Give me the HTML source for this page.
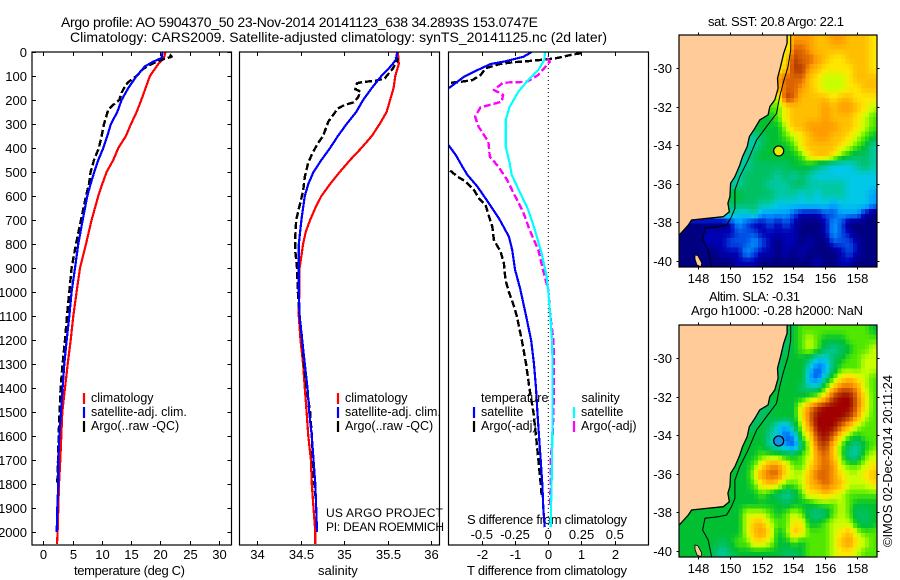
<!DOCTYPE html>
<html>
<head>
<meta charset="utf-8">
<title>Argo profile 5904370_50</title>
<style>
html,body{margin:0;padding:0;background:#fff;width:900px;height:580px;overflow:hidden}
svg{display:block}
text{font-family:"Liberation Sans",sans-serif;font-size:13px;fill:#000}
.ttl{font-size:14px}
.lg{font-size:12.5px}
.pj{font-size:12px}
</style>
</head>
<body>
<svg id="fig" width="900" height="580" viewBox="0 0 900 580" xmlns="http://www.w3.org/2000/svg">
  <defs>
    <clipPath id="clipT"><rect x="32" y="52" width="199.5" height="493"/></clipPath>
    <clipPath id="clipS"><rect x="239.5" y="52" width="200" height="493"/></clipPath>
    <clipPath id="clipD"><rect x="448.5" y="52" width="200" height="493"/></clipPath>
    <clipPath id="clipM1"><rect x="679" y="35" width="198" height="232"/></clipPath>
    <clipPath id="clipM2"><rect x="679" y="325" width="198" height="232"/></clipPath>
  </defs>
  <text class="ttl" x="61" y="27" textLength="477" lengthAdjust="spacing">Argo profile: AO 5904370_50 23-Nov-2014 20141123_638 34.2893S 153.0747E</text>
  <text class="ttl" x="70" y="42" textLength="537" lengthAdjust="spacing">Climatology: CARS2009. Satellite-adjusted climatology: synTS_20141125.nc (2d later)</text>

  <text x="74" y="575" textLength="111">temperature (deg C)</text>
  <text x="318" y="575">salinity</text>
  <text x="467" y="575" textLength="160">T difference from climatology</text>
  <text x="467" y="524" textLength="160">S difference from climatology</text>

  <text class="pj" x="326" y="517" textLength="117">US ARGO PROJECT</text>
  <text class="pj" x="326" y="531" textLength="118">PI: DEAN ROEMMICH</text>

  <text x="708" y="26" textLength="136">sat. SST: 20.8 Argo: 22.1</text>
  <text x="709" y="301" textLength="91">Altim. SLA: -0.31</text>
  <text x="691" y="315" textLength="172">Argo h1000: -0.28 h2000: NaN</text>
  <text transform="translate(892,547) rotate(-90)" x="0" y="0" textLength="172">©IMOS 02-Dec-2014 20:11:24</text>
</svg>
<script>
/* ---------- profile data: depth (dbar) and value ---------- */
const depthTicks = [0,100,200,300,400,500,600,700,800,900,1000,1100,1200,1300,1400,1500,1600,1700,1800,1900,2000];
const tempTicks = [0,5,10,15,20,25,30];
const salTicks = [34,34.5,35,35.5,36];
const tDiffTicks = [-2,-1,0,1,2];
const sDiffTicks = [-0.5,-0.25,0,0.25,0.5];

const tempClimDepth = [0,25,50,100,150,200,250,300,350,400,450,500,550,600,700,800,900,1000,1100,1200,1300,1400,1500,1600,1700,1800,1900,2000,2050];
const tempClimValues = [20.88,20.6,19.63,18.2,17.47,16.73,15.93,14.97,14.11,12.8,11.95,10.81,10.07,9.39,8.25,7.29,6.26,5.69,5.12,4.67,4.16,3.7,3.25,3.08,2.91,2.68,2.56,2.45,2.34];

const tempSatDepth = [0,25,40,60,100,150,200,250,300,350,400,450,500,550,600,700,800,900,1000,1100,1200,1300,1400,1500,1600,1700,1800,1900,2000];
const tempSatValues = [20.37,20.2,18.78,17.35,15.93,14.51,13.37,12.63,11.55,10.93,10.25,9.39,8.71,8.08,7.51,6.72,5.98,5.41,4.84,4.44,3.99,3.59,3.3,3.02,2.74,2.56,2.56,2.39,2.28];

const tempArgoDepth = [10,20,30,40,50,70,100,120,135,170,200,220,240,300,350,400,450,500,550,600,700,800,900,1000,1100,1200,1300,1400,1500,1600,1700,1800];
const tempArgoValues = [21.6,21.9,20.5,19.34,18.49,17.07,15.93,14.8,14.11,13.37,12.97,11.95,11.1,10.36,9.96,9.5,8.65,8.08,7.8,7.29,6.43,5.58,4.84,4.44,4.04,3.7,3.3,2.96,2.79,2.62,2.51,2.39];

const salClimDepth = [0,50,100,150,200,250,300,350,400,450,500,550,600,650,700,750,800,850,900,1000,1050,1100,1200,1300,1400,1500,1600,1700,1800,1900,2000,2050];
const salClimValues = [35.62,35.63,35.59,35.57,35.53,35.49,35.41,35.32,35.2,35.07,34.95,34.84,34.74,34.67,34.61,34.56,34.53,34.51,34.49,34.49,34.48,34.48,34.5,34.53,34.55,34.57,34.59,34.62,34.63,34.65,34.67,34.67];

const salSatDepth = [0,30,50,70,100,150,200,250,300,350,400,450,500,550,600,650,700,800,900,1000,1100,1200,1300,1400,1500,1600,1700,1800,1900,2000];
const salSatValues = [35.61,35.6,35.56,35.51,35.43,35.32,35.22,35.14,35.03,34.93,34.84,34.74,34.65,34.59,34.55,34.53,34.51,34.48,34.48,34.48,34.49,34.52,34.55,34.58,34.6,34.63,34.65,34.67,34.68,34.69];

const salArgoDepth = [20,30,50,70,100,110,120,125,130,155,165,190,210,220,235,260,290,350,380,420,460,520,580,640,700,770,830,900,1000,1100,1200,1300,1400,1500,1600,1700,1800,1850];
const salArgoValues = [35.59,35.62,35.59,35.56,35.49,35.47,35.36,35.22,35.15,35.13,35.19,35.16,35.11,35.01,34.93,34.88,34.82,34.76,34.7,34.64,34.59,34.55,34.53,34.49,34.45,34.44,34.44,34.46,34.47,34.49,34.52,34.54,34.57,34.61,34.63,34.64,34.66,34.67];

const dTSatDepth = [0,20,40,50,82,103,144,200,300,390,429,478,512,561,631,693,769,825,908,985,1100,1200,1300,1400,1500,1600,1700,1800,1900,1980];
const dTSatValues = [-0.5,-0.75,-1.34,-1.74,-2.24,-2.54,-2.94,-3.5,-3.6,-3.0,-2.79,-2.59,-2.44,-2.14,-1.79,-1.49,-1.19,-1.09,-1.0,-0.85,-0.67,-0.52,-0.43,-0.37,-0.33,-0.28,-0.23,-0.18,-0.15,-0.11];

const dTArgoDepth = [5,10,24,30,40,43,51,68,96,117,124,128,200,400,494,519,540,575,610,637,686,728,783,832,880,950,1000,1050,1100,1200,1300,1400,1500,1600,1700,1800,1850];
const dTArgoValues = [1.0,0.75,0.3,0,-0.75,-1.09,-1.49,-1.89,-2.04,-2.29,-2.64,-2.94,-3.8,-3.6,-2.96,-2.74,-2.49,-2.24,-2.09,-1.89,-1.79,-1.69,-1.64,-1.44,-1.34,-1.29,-1.19,-1.06,-0.95,-0.8,-0.67,-0.57,-0.45,-0.37,-0.3,-0.23,-0.2];

const dSSatDepth = [0,33,75,117,165,228,283,394,464,512,589,658,742,839,936,1000,1100,1200,1300,1400,1500,1600,1700,1800,1900,1980];
const dSSatValues = [-0.025,-0.03,-0.075,-0.15,-0.225,-0.29,-0.32,-0.32,-0.29,-0.275,-0.21,-0.15,-0.1,-0.05,-0.012,0,0.015,0.028,0.032,0.032,0.032,0.03,0.028,0.025,0.02,0.018];

const dSArgoDepth = [26,40,96,124,128,158,179,207,231,269,311,374,436,478,533,589,665,742,825,908,992,1100,1200,1300,1400,1500,1600,1700,1800,1900];
const dSArgoValues = [-0.01,0.012,-0.075,-0.16,-0.34,-0.41,-0.34,-0.35,-0.51,-0.55,-0.525,-0.45,-0.44,-0.375,-0.31,-0.26,-0.19,-0.14,-0.075,-0.04,0,0.015,0.038,0.042,0.042,0.038,0.032,0.018,0.018,0.012];

/* ---------- map data: colour-level grids, 25 columns x 24 rows (L = land) ---------- */
const L = null;
const mapLonTicks = [148,150,152,154,156,158];
const mapLatTicks = [-30,-32,-34,-36,-38,-40];
const levelColors = ['#000080','#0000b4','#0050e6','#00a0ff','#00c8e6','#00c8a0','#00c064','#00c032','#50e800','#c8ff00','#ffe600','#ffbe00','#ff9b00','#dc6400','#b43c00','#a00000'];

const sstRows = [
[L,L,L,L,L,L,L,L,L,L,L,L,L,9,12,12,12,11,11,12,12,11,11,11,10],
[L,L,L,L,L,L,L,L,L,L,L,L,L,9,13,13,12,11,11,11,11,11,11,11,10],
[L,L,L,L,L,L,L,L,L,L,L,L,L,10,14,13,13,12,11,10,10,11,11,11,10],
[L,L,L,L,L,L,L,L,L,L,L,L,9,11,14,14,12,11,10,10,10,10,11,11,10],
[L,L,L,L,L,L,L,L,L,L,L,L,12,13,13,13,11,10,9,9,9,10,11,11,11],
[L,L,L,L,L,L,L,L,L,L,L,L,11,13,13,12,11,10,9,9,9,10,10,11,11],
[L,L,L,L,L,L,L,L,L,L,L,L,9,14,13,11,11,11,11,10,11,11,10,10,10],
[L,L,L,L,L,L,L,L,L,L,L,L,8,10,11,11,11,11,12,11,12,12,11,10,9],
[L,L,L,L,L,L,L,L,L,L,L,7,8,10,11,11,11,11,12,11,11,11,10,9,8],
[L,L,L,L,L,L,L,L,L,L,7,7,7,9,11,11,12,12,12,12,11,11,10,9,8],
[L,L,L,L,L,L,L,L,L,5,6,7,7,8,9,10,11,12,12,11,11,10,9,8,7],
[L,L,L,L,L,L,L,L,L,5,6,7,7,7,8,10,11,11,11,11,10,9,8,7,5],
[L,L,L,L,L,L,L,L,5,6,7,7,7,7,7,8,10,11,11,10,8,7,6,6,5],
[L,L,L,L,L,L,L,L,5,6,6,6,6,6,7,7,7,6,5,4,4,4,5,6,5],
[L,L,L,L,L,L,L,5,6,6,6,6,5,6,5,6,5,4,4,4,4,4,4,4,4],
[L,L,L,L,L,L,L,5,6,6,6,5,5,5,6,6,5,5,5,5,5,4,4,4,4],
[L,L,L,L,L,L,L,7,6,6,6,6,5,5,5,4,5,4,5,5,5,4,4,4,3],
[L,L,L,L,L,L,6,6,6,6,5,5,4,4,4,4,4,4,4,3,4,4,4,4,3],
[L,L,L,L,L,L,5,4,4,5,3,3,3,3,2,1,1,1,2,2,3,3,3,1,0],
[0,0,0,0,0,0,1,3,2,1,1,2,1,2,1,0,0,0,1,3,2,0,0,0,0],
[0,0,0,1,1,1,1,2,2,2,1,1,1,1,1,0,0,0,1,3,2,1,0,0,0],
[0,0,0,1,1,1,2,2,2,3,2,1,0,1,1,0,1,0,0,2,2,2,1,0,0],
[0,0,0,0,0,1,1,1,3,2,1,1,0,1,0,1,0,0,0,0,1,2,1,0,0],
[0,0,0,0,0,0,0,1,1,1,0,0,0,0,0,0,0,1,0,0,1,1,0,0,0]
];

const slaRows = [
[L,L,L,L,L,L,L,L,L,L,L,L,L,6,7,8,8,8,8,8,8,8,8,8,7],
[L,L,L,L,L,L,L,L,L,L,L,L,L,6,7,8,9,8,7,7,7,8,8,8,8],
[L,L,L,L,L,L,L,L,L,L,L,L,L,6,7,8,9,8,6,5,6,7,8,8,9],
[L,L,L,L,L,L,L,L,L,L,L,L,6,7,7,7,6,4,4,6,7,8,8,9,9],
[L,L,L,L,L,L,L,L,L,L,L,L,6,7,7,7,4,2,3,6,8,8,8,9,9],
[L,L,L,L,L,L,L,L,L,L,L,L,6,7,7,7,3,2,5,8,10,11,10,9,8],
[L,L,L,L,L,L,L,L,L,L,L,L,7,7,7,6,5,5,8,11,13,13,12,9,8],
[L,L,L,L,L,L,L,L,L,L,L,L,7,7,7,7,8,9,11,14,15,15,13,10,8],
[L,L,L,L,L,L,L,L,L,L,L,6,7,7,7,10,12,14,15,15,15,15,13,10,8],
[L,L,L,L,L,L,L,L,L,L,6,7,7,7,7,10,13,15,15,15,15,14,12,9,8],
[L,L,L,L,L,L,L,L,L,6,7,6,4,3,6,9,12,15,15,15,13,11,9,8,8],
[L,L,L,L,L,L,L,L,L,7,7,5,4,2,3,8,10,14,15,13,10,8,7,8,8],
[L,L,L,L,L,L,L,L,7,7,7,5,4,3,2,6,9,13,14,11,8,6,5,7,8],
[L,L,L,L,L,L,L,L,7,7,8,8,8,7,7,8,9,12,13,11,8,5,5,8,9],
[L,L,L,L,L,L,L,7,7,8,10,12,12,10,8,8,10,12,13,12,9,8,8,9,10],
[L,L,L,L,L,L,L,7,7,9,12,13,13,10,9,9,11,13,13,12,10,9,9,10,11],
[L,L,L,L,L,L,L,7,7,8,10,11,10,8,8,9,11,12,13,12,11,9,9,9,10],
[L,L,L,L,L,L,7,7,7,7,8,7,6,5,6,8,10,10,11,10,9,8,8,8,8],
[L,L,L,L,L,L,7,7,7,7,7,7,7,6,7,7,7,8,8,8,9,8,7,7,7],
[7,7,7,7,7,7,7,7,9,9,9,8,7,8,9,8,6,5,6,8,9,8,6,6,7],
[7,7,7,7,7,7,7,7,9,11,11,9,8,8,10,10,7,7,8,9,9,9,7,6,7],
[7,7,7,7,7,7,7,7,9,11,12,10,7,8,11,10,8,8,8,9,10,11,9,8,8],
[7,7,7,7,7,6,7,8,8,10,10,9,7,7,8,7,8,8,8,9,11,12,10,9,8],
[7,7,7,7,6,5,6,7,7,7,7,7,7,6,6,7,8,8,8,9,10,10,9,8,8]
];

const coastLon = [153.6,153.6,153.39,153.19,153.0,153.04,152.83,152.52,152.41,151.89,151.58,151.23,151.1,150.81,150.64,150.33,150.06,150.02,149.89,149.98,149.6,148.56,147.62,147.41,146.85];
const coastLat = [-28.27,-28.7,-29.22,-29.92,-30.52,-31.04,-31.64,-31.99,-32.42,-32.68,-33.12,-33.55,-34.07,-34.59,-35.02,-35.62,-35.97,-36.66,-37.0,-37.44,-37.7,-37.79,-37.87,-38.13,-38.65];
const shelfLon = [153.83,153.83,153.66,153.35,153.14,152.94,152.31,151.69,151.16,150.64,150.33,150.33,150.12,149.81,149.29,148.46,148.31,148.66,148.87];
const shelfLat = [-28.27,-29.05,-29.92,-30.78,-31.47,-32.34,-33.03,-33.72,-34.76,-35.62,-36.32,-37.27,-37.7,-38.13,-38.22,-38.3,-38.91,-39.43,-40.3];
const islandLon = [147.83,148.0,148.25,148.2,147.95,147.83];
const islandLat = [-39.69,-39.72,-40.1,-40.3,-40.2,-39.9];
const stationLon = [153.0747];
const stationLat = [-34.2893];

/* ---------- helpers ---------- */
const NS = 'http://www.w3.org/2000/svg';
const fig = document.getElementById('fig');
function mk(tag, attrs, parent) {
  const e = document.createElementNS(NS, tag);
  for (const k in attrs) e.setAttribute(k, attrs[k]);
  (parent || fig).appendChild(e);
  return e;
}
function linear(d0, d1, p0, p1) { return v => p0 + (v - d0) * (p1 - p0) / (d1 - d0); }
const yDepth = linear(0, 2000, 52, 532);
const xTemp = linear(0, 30, 43.3, 219);
const xSal = linear(34, 36, 257, 431);
const xDT = linear(0, 2, 548.3, 614.6);
const xDS = linear(0, 0.5, 548.3, 614.8);
const xLon = linear(148, 158, 697.7, 857.3);

function drawFrame(x, y, w, h, name) {
  const r = mk('rect', {x: x, y: y, width: w, height: h, fill: 'none', stroke: '#000', 'stroke-width': 1.2});
  
  
}
function tick(x1, y1, x2, y2, name) {
  const t = mk('line', {x1: x1, y1: y1, x2: x2, y2: y2, stroke: '#000', 'stroke-width': 1});
  
  
}
function label(x, y, s, anchor, name, cls) {
  const t = mk('text', {x: x, y: y, 'text-anchor': anchor});
  if (cls) t.setAttribute('class', cls);
  t.textContent = s;
  
  
}
function drawProfile(depths, values, xFn, color, dashed, clip, name) {
  const pts = depths.map((d, i) => xFn(values[i]).toFixed(1) + ',' + yDepth(d).toFixed(1)).join(' ');
  const p = mk('polyline', {points: pts, fill: 'none', stroke: color, 'stroke-width': dashed ? 2.4 : 2.2, 'clip-path': 'url(#' + clip + ')', 'stroke-linejoin': 'round', 'shape-rendering': 'crispEdges'});
  if (dashed) p.setAttribute('stroke-dasharray', '7 3');
  
  
}
function legendEntry(x, yBase, color, text, name) {
  const m = mk('line', {x1: x, y1: yBase - 9, x2: x, y2: yBase + 2, stroke: color, 'stroke-width': 2.2});
  
  
  label(x + 7, yBase, text, 'start', name, 'lg');
}

/* ---------- profile panels ---------- */
drawProfile(tempClimDepth, tempClimValues, xTemp, '#ff0000', false, 'clipT', 'temperature-climatology-line');
drawProfile(tempArgoDepth, tempArgoValues, xTemp, '#000000', true, 'clipT', 'temperature-argo-line');
drawProfile(tempSatDepth, tempSatValues, xTemp, '#0000ff', false, 'clipT', 'temperature-satellite-line');

drawProfile(salClimDepth, salClimValues, xSal, '#ff0000', false, 'clipS', 'salinity-climatology-line');
drawProfile(salArgoDepth, salArgoValues, xSal, '#000000', true, 'clipS', 'salinity-argo-line');
drawProfile(salSatDepth, salSatValues, xSal, '#0000ff', false, 'clipS', 'salinity-satellite-line');

const zeroLine = mk('line', {x1: xDT(0), y1: 52, x2: xDT(0), y2: 532, stroke: '#000', 'stroke-width': 1, 'stroke-dasharray': '1 3'});


drawProfile(dTArgoDepth, dTArgoValues, xDT, '#000000', true, 'clipD', 't-difference-argo-line');
drawProfile(dTSatDepth, dTSatValues, xDT, '#0000ff', false, 'clipD', 't-difference-satellite-line');
drawProfile(dSArgoDepth, dSArgoValues, xDS, '#ff00ff', true, 'clipD', 's-difference-argo-line');
drawProfile(dSSatDepth, dSSatValues, xDS, '#00ffff', false, 'clipD', 's-difference-satellite-line');

drawFrame(32, 52, 199.5, 493, 'temperature-panel-frame');
drawFrame(239.5, 52, 200, 493, 'salinity-panel-frame');
drawFrame(448.5, 52, 200, 493, 'difference-panel-frame');

depthTicks.forEach(d => {
  const y = Math.round(yDepth(d)) + 0.5;
  tick(32, y, 36, y, 'depth-tick-left');
  tick(231.5, y, 227.5, y, 'depth-tick-right');
  label(27, y + 4.5, String(d), 'end', 'depth-tick-label');
});
tempTicks.forEach(v => {
  const x = Math.round(xTemp(v)) + 0.5;
  tick(x, 52, x, 56, 'temperature-tick-top');
  tick(x, 545, x, 541, 'temperature-tick-bottom');
  label(x, 559, String(v), 'middle', 'temperature-tick-label');
});
salTicks.forEach(v => {
  const x = Math.round(xSal(v)) + 0.5;
  tick(x, 52, x, 56, 'salinity-tick-top');
  tick(x, 545, x, 541, 'salinity-tick-bottom');
  label(x, 559, String(v), 'middle', 'salinity-tick-label');
});
tDiffTicks.forEach(v => {
  const x = Math.round(xDT(v)) + 0.5;
  tick(x, 52, x, 56, 't-difference-tick-top');
  tick(x, 545, x, 541, 't-difference-tick-bottom');
  label(x, 559, String(v), 'middle', 't-difference-tick-label');
});
sDiffTicks.forEach(v => {
  label(xDS(v), 539, String(v), 'middle', 's-difference-tick-label');
});

legendEntry(84, 402, '#ff0000', 'climatology', 'temperature-legend-climatology');
legendEntry(84, 416, '#0000ff', 'satellite-adj. clim.', 'temperature-legend-satellite');
legendEntry(84, 430, '#000000', 'Argo(..raw -QC)', 'temperature-legend-argo');
legendEntry(338, 402, '#ff0000', 'climatology', 'salinity-legend-climatology');
legendEntry(338, 416, '#0000ff', 'satellite-adj. clim.', 'salinity-legend-satellite');
legendEntry(338, 430, '#000000', 'Argo(..raw -QC)', 'salinity-legend-argo');
label(481, 402, 'temperature', 'start', 'difference-legend-temperature-heading', 'lg');
legendEntry(474, 416, '#0000ff', 'satellite', 'difference-legend-t-satellite');
legendEntry(474, 430, '#000000', 'Argo(-adj)', 'difference-legend-t-argo');
label(581.5, 402, 'salinity', 'start', 'difference-legend-salinity-heading', 'lg');
legendEntry(574, 416, '#00ffff', 'satellite', 'difference-legend-s-satellite');
legendEntry(574, 430, '#ff00ff', 'Argo(-adj)', 'difference-legend-s-argo');

/* ---------- maps ---------- */
function hexRgb(h) { return [1, 3, 5].map(i => parseInt(h.slice(i, i + 2), 16)); }
function levelColor(v) {
  const lo = Math.max(0, Math.min(levelColors.length - 1, Math.floor(v)));
  const hi = Math.min(levelColors.length - 1, lo + 1);
  const f = Math.max(0, Math.min(1, v - lo));
  const a = hexRgb(levelColors[lo]), b = hexRgb(levelColors[hi]);
  return 'rgb(' + a.map((c, i) => Math.round(c + (b[i] - c) * f)).join(',') + ')';
}
function cellValue(rows, r, c) {
  const row = rows[Math.max(0, Math.min(rows.length - 1, r))];
  const cc = Math.max(0, Math.min(row.length - 1, c));
  if (row[cc] !== null) return row[cc];
  return row.find(v => v !== null);
}
function sampleGrid(rows, fr, fc) {
  const r0 = Math.floor(fr), c0 = Math.floor(fc);
  const tr = fr - r0, tc = fc - c0;
  const top = cellValue(rows, r0, c0) * (1 - tc) + cellValue(rows, r0, c0 + 1) * tc;
  const bot = cellValue(rows, r0 + 1, c0) * (1 - tc) + cellValue(rows, r0 + 1, c0 + 1) * tc;
  return top * (1 - tr) + bot * tr;
}
function drawMap(rows, top, clip, markColor, prefix) {
  const yLat = linear(-30, -40, top + 33.3, top + 226);
  const group = mk('g', {'clip-path': 'url(#' + clip + ')'});
  
  
  const cellHolder = mk('g', {'shape-rendering': 'crispEdges'}, group);
  const nCols = rows[0].length * 2, nRows = rows.length * 2;
  const cw = 198 / nCols, ch = 232 / nRows;
  for (let r = 0; r < nRows; r++) {
    for (let c = 0; c < nCols; c++) {
      const v = sampleGrid(rows, (r + 0.5) / 2 - 0.5, (c + 0.5) / 2 - 0.5);
      const cell = mk('rect', {x: 679 + c * cw, y: top + r * ch, width: cw + 0.3, height: ch + 0.3, fill: levelColor(v)}, cellHolder);
      
      
    }
  }
  const coastPts = coastLon.map((v, i) => xLon(v).toFixed(1) + ',' + yLat(coastLat[i]).toFixed(1)).join(' ');
  const land = mk('polygon', {points: '679,' + top + ' ' + coastPts, fill: '#ffcc99', stroke: 'none'}, group);
  
  
  const coast = mk('polyline', {points: coastPts, fill: 'none', stroke: '#000', 'stroke-width': 1.3}, group);
  
  
  const shelfPts = shelfLon.map((v, i) => xLon(v).toFixed(1) + ',' + yLat(shelfLat[i]).toFixed(1)).join(' ');
  const shelf = mk('polyline', {points: shelfPts, fill: 'none', stroke: '#000', 'stroke-width': 1}, group);
  
  
  const islandPts = islandLon.map((v, i) => xLon(v).toFixed(1) + ',' + yLat(islandLat[i]).toFixed(1)).join(' ');
  const island = mk('polygon', {points: islandPts, fill: '#ffcc99', stroke: '#000', 'stroke-width': 0.8}, group);
  
  
  const station = mk('circle', {cx: xLon(stationLon[0]), cy: yLat(stationLat[0]), r: 5, fill: markColor, stroke: '#000', 'stroke-width': 1.2}, group);
  
  
  drawFrame(679, top, 198, 232, prefix + '-map-frame');
  mapLonTicks.forEach(v => {
    const x = Math.round(xLon(v)) + 0.5;
    tick(x, top, x, top - 2.5, prefix + '-lon-tick-top');
    tick(x, top + 232, x, top + 234.5, prefix + '-lon-tick-bottom');
    label(x, top + 248, String(v), 'middle', prefix + '-lon-label');
  });
  mapLatTicks.forEach(v => {
    const y = Math.round(yLat(v)) + 0.5;
    tick(679, y, 676.5, y, prefix + '-lat-tick-left');
    tick(877, y, 879.5, y, prefix + '-lat-tick-right');
    label(672, y + 4.5, String(v), 'end', prefix + '-lat-label');
  });
}
drawMap(sstRows, 35, 'clipM1', '#e0f000', 'sst');
drawMap(slaRows, 325, 'clipM2', '#1090e8', 'sla');
</script>
</body>
</html>
